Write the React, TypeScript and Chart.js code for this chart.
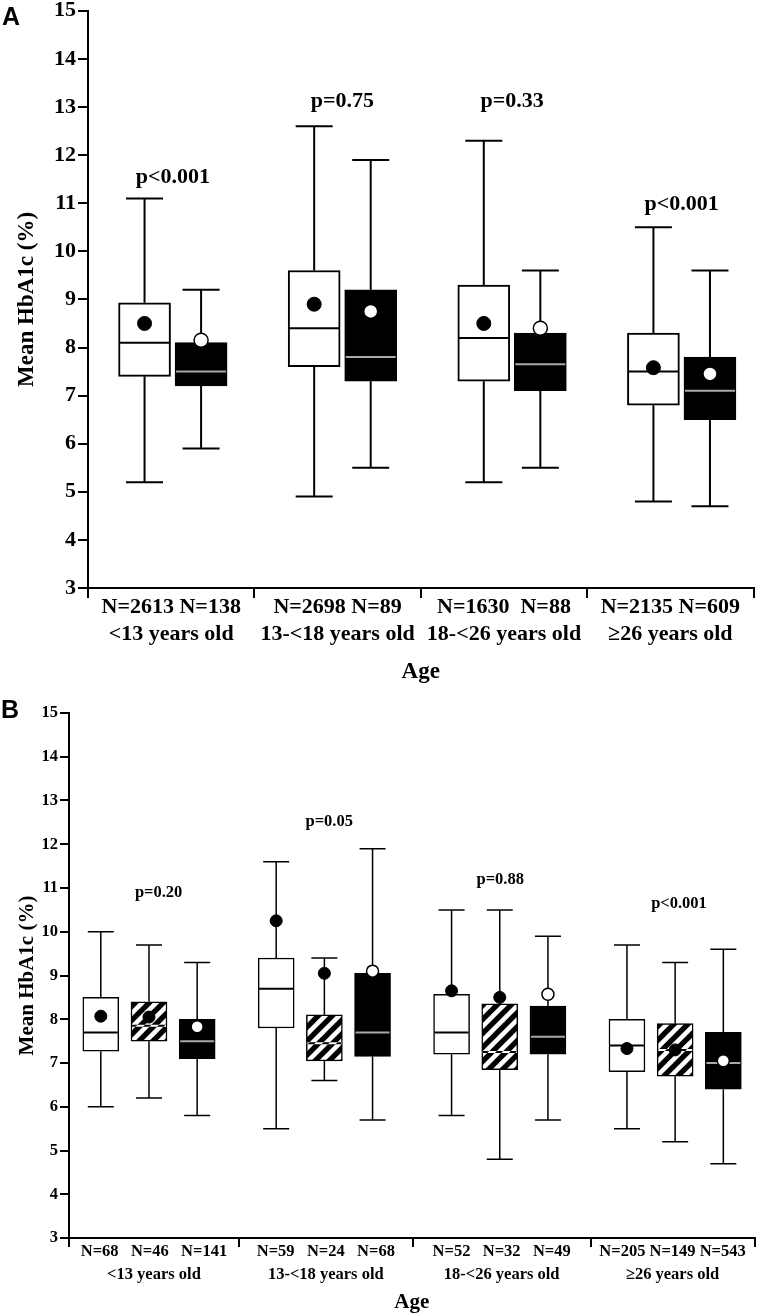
import React, { useEffect, useRef } from "react";
import { Chart, registerables } from "chart.js";

Chart.register(...registerables);

const SERIF = "'Liberation Serif', 'Times New Roman', serif";

// ---------------- Panel A data ----------------
const ageGroups = ["<13 years old", "13-<18 years old", "18-<26 years old", "≥26 years old"];
const nLabelsA = ["N=2613 N=138", "N=2698 N=89", "N=1630  N=88", "N=2135 N=609"];
const boxTypesA = ["white", "black", "white", "black", "white", "black", "white", "black"];
const minA = [5.2, 5.9, 4.9, 5.5, 5.2, 5.5, 4.8, 4.7];
const q1A = [7.4, 7.2, 7.6, 7.3, 7.3, 7.1, 6.8, 6.5];
const medianA = [8.1, 7.5, 8.4, 7.8, 8.2, 7.65, 7.5, 7.1];
const q3A = [8.93, 8.1, 9.6, 9.2, 9.3, 8.3, 8.3, 7.8];
const maxA = [11.1, 9.2, 12.6, 11.9, 12.3, 9.6, 10.5, 9.6];
const meanA = [8.5, 8.15, 8.9, 8.75, 8.5, 8.4, 7.58, 7.45];
const pLabelsA = ["p<0.001", "p=0.75", "p=0.33", "p<0.001"];
const pLevelA = [11.53, 13.12, 13.12, 10.97];

// ---------------- Panel B data ----------------
const nLabelsB = ["N=68   N=46   N=141", "N=59   N=24   N=68", "N=52   N=32   N=49", "N=205 N=149 N=543"];
const boxTypesB = ["white", "hatched", "black", "white", "hatched", "black", "white", "hatched", "black", "white", "hatched", "black"];
const minB = [6.0, 6.2, 5.8, 5.5, 6.6, 5.7, 5.8, 4.8, 5.7, 5.5, 5.2, 4.7];
const q1B = [7.27, 7.5, 7.1, 7.8, 7.05, 7.15, 7.2, 6.85, 7.2, 6.8, 6.7, 6.4];
const medianB = [7.7, 7.85, 7.5, 8.7, 7.45, 7.7, 7.7, 7.25, 7.6, 7.4, 7.3, 7.0];
const q3B = [8.5, 8.4, 8.0, 9.4, 8.1, 9.05, 8.57, 8.35, 8.3, 8.0, 7.9, 7.7];
const maxB = [10.0, 9.7, 9.3, 11.6, 9.4, 11.9, 10.5, 10.5, 9.9, 9.7, 9.3, 9.6];
const meanB = [8.07, 8.05, 7.83, 10.25, 9.05, 9.1, 8.65, 8.5, 8.57, 7.33, 7.3, 7.05];
const pLabelsB = ["p=0.20", "p=0.05", "p=0.88", "p<0.001"];
const pLevelB = [10.89, 12.51, 11.18, 10.63];

const yTicks = [3, 4, 5, 6, 7, 8, 9, 10, 11, 12, 13, 14, 15];

// ---------------- layout (x-scale units, pixels, styles) ----------------
type Panel = {
  groups: string[]; nLabels: string[]; types: string[];
  min: number[]; q1: number[]; med: number[]; q3: number[]; max: number[]; mean: number[];
  pLabels: string[]; pLevel: number[];
  slots: number[]; dividers: number[]; pX: number[];
  width: number; height: number; padTop: number; yAxisW: number; xAxisH: number;
  boxW: number; capW: number; lineW: number; meanR: number;
  tickFont: number; xTickFont: number; xTickLH: number; xTickPad: number; tickLen: number;
  yTitleFont: number; yTitlePad: number; xTitleFont: number; xTitlePad: number; pFont: number;
};

const panelA: Panel = {
  groups: ageGroups, nLabels: nLabelsA, types: boxTypesA,
  min: minA, q1: q1A, med: medianA, q3: q3A, max: maxA, mean: meanA,
  pLabels: pLabelsA, pLevel: pLevelA,
  slots: [0, 1, 3, 4, 6, 7, 9, 10],
  dividers: [-1, 1.943, 4.886, 7.828, 10.77],
  pX: [0.5, 3.5, 6.5, 9.5],
  width: 762, height: 690, padTop: 9, yAxisW: 88, xAxisH: 102,
  boxW: 52, capW: 37, lineW: 2, meanR: 7,
  tickFont: 22, xTickFont: 22, xTickLH: 1.25, xTickPad: -4.75, tickLen: 10,
  yTitleFont: 23, yTitlePad: 13, xTitleFont: 23, xTitlePad: 4, pFont: 22,
};

const panelB: Panel = {
  groups: ageGroups, nLabels: nLabelsB, types: boxTypesB,
  min: minB, q1: q1B, med: medianB, q3: q3B, max: maxB, mean: meanB,
  pLabels: pLabelsB, pLevel: pLevelB,
  slots: [0, 1, 2, 3.64, 4.64, 5.64, 7.28, 8.28, 9.28, 10.92, 11.92, 12.92],
  dividers: [-0.66, 2.866, 6.474, 10.165, 13.567],
  pX: [1.2, 4.74, 8.29, 12.0],
  width: 762, height: 625, padTop: 23, yAxisW: 69, xAxisH: 77,
  boxW: 36, capW: 26, lineW: 1.5, meanR: 6,
  tickFont: 16.5, xTickFont: 16.5, xTickLH: 1.4, xTickPad: -6.5, tickLen: 9,
  yTitleFont: 21, yTitlePad: 15, xTitleFont: 21, xTitlePad: 0, pFont: 16.5,
};

function makeHatch(): CanvasPattern | string {
  const T = 14;
  const c = document.createElement("canvas");
  c.width = T;
  c.height = T;
  const g = c.getContext("2d");
  if (!g) return "#888";
  g.fillStyle = "#fff";
  g.fillRect(0, 0, T, T);
  g.strokeStyle = "#000";
  g.lineWidth = 5.4;
  for (const s of [0, T, 2 * T]) {
    g.beginPath();
    g.moveTo(-T / 2, s + T / 2);
    g.lineTo(s + T / 2, -T / 2);
    g.stroke();
  }
  return g.createPattern(c, "repeat") || "#888";
}

function makeChart(canvas: HTMLCanvasElement, P: Panel) {
  const hatch = makeHatch();
  const fillFor = (t: string) => (t === "white" ? "#ffffff" : t === "black" ? "#000000" : hatch);
  const kinds = ["white", "hatched", "black"].filter((t) => P.types.includes(t));

  const barSets: any[] = kinds.map((t) => {
    const idx = P.types.map((tt, i) => (tt === t ? i : -1)).filter((i) => i >= 0);
    return {
      type: "bar",
      label: t,
      boxType: t,
      data: idx.map((i) => ({ x: P.slots[i], y: [P.q1[i], P.q3[i]] })),
      backgroundColor: fillFor(t),
      borderColor: "#000",
      borderWidth: P.lineW,
      borderSkipped: false,
      barThickness: P.boxW,
      grouped: false,
      order: 2,
    };
  });

  const darkIdx = P.types.map((t, i) => (t !== "black" ? i : -1)).filter((i) => i >= 0);
  const lightIdx = P.types.map((t, i) => (t === "black" ? i : -1)).filter((i) => i >= 0);
  const meanSets: any[] = [
    {
      type: "scatter",
      label: "mean (dark)",
      data: darkIdx.map((i) => ({ x: P.slots[i], y: P.mean[i] })),
      pointRadius: P.meanR,
      pointBackgroundColor: "#000",
      pointBorderColor: "#000",
      pointBorderWidth: 1,
      order: 0,
    },
    {
      type: "scatter",
      label: "mean (light)",
      data: lightIdx.map((i) => ({ x: P.slots[i], y: P.mean[i] })),
      pointRadius: P.meanR,
      pointBackgroundColor: "#fff",
      pointBorderColor: "#000",
      pointBorderWidth: 1.5,
      order: 0,
    },
  ];

  const centers = P.groups.map((_, g) => (P.dividers[g] + P.dividers[g + 1]) / 2);
  const tickVals: number[] = [];
  P.dividers.forEach((d, i) => {
    tickVals.push(d);
    if (i < centers.length) tickVals.push(centers[i]);
  });

  const boxPlugin = {
    id: "boxplot",
    beforeDatasetsDraw(chart: any) {
      const { ctx } = chart;
      const x = chart.scales.x;
      const y = chart.scales.y;
      ctx.save();
      ctx.strokeStyle = "#000";
      ctx.lineWidth = P.lineW;
      P.slots.forEach((s, i) => {
        const px = x.getPixelForValue(s);
        const hw = P.capW / 2;
        const yMax = y.getPixelForValue(P.max[i]);
        const yMin = y.getPixelForValue(P.min[i]);
        ctx.beginPath();
        ctx.moveTo(px, y.getPixelForValue(P.q3[i]));
        ctx.lineTo(px, yMax);
        ctx.moveTo(px - hw, yMax);
        ctx.lineTo(px + hw, yMax);
        ctx.moveTo(px, y.getPixelForValue(P.q1[i]));
        ctx.lineTo(px, yMin);
        ctx.moveTo(px - hw, yMin);
        ctx.lineTo(px + hw, yMin);
        ctx.stroke();
      });
      ctx.restore();
    },
    afterDatasetDraw(chart: any, args: any) {
      const ds = chart.data.datasets[args.index];
      if (!ds || !ds.boxType) return;
      const { ctx } = chart;
      const x = chart.scales.x;
      const y = chart.scales.y;
      ctx.save();
      ctx.lineWidth = 2;
      P.types.forEach((t, i) => {
        if (t !== ds.boxType) return;
        const px = x.getPixelForValue(P.slots[i]);
        const py = y.getPixelForValue(P.med[i]);
        const hw = P.boxW / 2 - 1;
        if (t === "hatched") {
          ctx.globalCompositeOperation = "difference";
          ctx.strokeStyle = "#fff";
        } else {
          ctx.globalCompositeOperation = "source-over";
          ctx.strokeStyle = t === "black" ? "#a8a8a8" : "#000";
        }
        ctx.beginPath();
        ctx.moveTo(px - hw, py);
        ctx.lineTo(px + hw, py);
        ctx.stroke();
      });
      ctx.restore();
    },
    afterDraw(chart: any) {
      const { ctx } = chart;
      const x = chart.scales.x;
      const y = chart.scales.y;
      ctx.save();
      ctx.fillStyle = "#000";
      ctx.font = `bold ${P.pFont}px ${SERIF}`;
      ctx.textAlign = "center";
      ctx.textBaseline = "middle";
      P.pLabels.forEach((lab, i) => {
        ctx.fillText(lab, x.getPixelForValue(P.pX[i]), y.getPixelForValue(P.pLevel[i]));
      });
      ctx.restore();
    },
  };

  return new Chart(canvas, {
    type: "bar",
    data: { datasets: [...barSets, ...meanSets] },
    options: {
      responsive: false,
      animation: false,
      devicePixelRatio: 1,
      events: [],
      layout: { padding: { top: P.padTop, left: 0, right: 3, bottom: 0 } },
      plugins: { legend: { display: false }, tooltip: { enabled: false }, title: { display: false } },
      scales: {
        x: {
          type: "linear",
          position: "bottom",
          min: P.dividers[0],
          max: P.dividers[P.dividers.length - 1],
          offset: false,
          afterBuildTicks: (scale: any) => {
            scale.ticks = tickVals.map((v) => ({ value: v }));
          },
          afterFit: (scale: any) => {
            scale.height = P.xAxisH;
          },
          ticks: {
            autoSkip: false,
            maxRotation: 0,
            minRotation: 0,
            color: "#000",
            padding: P.xTickPad,
            font: { family: SERIF, size: P.xTickFont, weight: "bold", lineHeight: P.xTickLH },
            callback: (_v: any, i: number) => (i % 2 === 1 ? [P.nLabels[(i - 1) / 2], P.groups[(i - 1) / 2]] : ""),
          },
          grid: {
            display: true,
            offset: false,
            drawOnChartArea: false,
            drawTicks: true,
            tickLength: P.tickLen,
            lineWidth: 2,
            color: (ctx: any) => (ctx.index % 2 === 0 ? "#000" : "rgba(0,0,0,0)"),
          },
          border: { display: true, color: "#000", width: 2 },
          title: {
            display: true,
            text: "Age",
            color: "#000",
            font: { family: SERIF, size: P.xTitleFont, weight: "bold" },
            padding: { top: 0, bottom: P.xTitlePad },
          },
        },
        y: {
          type: "linear",
          min: 3,
          max: 15,
          afterBuildTicks: (scale: any) => {
            scale.ticks = yTicks.map((v) => ({ value: v }));
          },
          afterFit: (scale: any) => {
            scale.width = P.yAxisW;
          },
          ticks: {
            color: "#000",
            padding: 2,
            font: { family: SERIF, size: P.tickFont, weight: "bold", lineHeight: 0.8 },
          },
          grid: {
            display: true,
            drawOnChartArea: false,
            drawTicks: true,
            tickLength: P.tickLen,
            lineWidth: 2,
            color: "#000",
          },
          border: { display: true, color: "#000", width: 2 },
          title: {
            display: true,
            text: "Mean HbA1c (%)",
            color: "#000",
            font: { family: SERIF, size: P.yTitleFont, weight: "bold" },
            padding: { top: P.yTitlePad, bottom: 0 },
          },
        },
      },
    } as any,
    plugins: [boxPlugin],
  } as any);
}

export default function App() {
  const refA = useRef<HTMLCanvasElement>(null);
  const refB = useRef<HTMLCanvasElement>(null);

  useEffect(() => {
    if (!refA.current || !refB.current) return;
    const a = makeChart(refA.current, panelA);
    const b = makeChart(refB.current, panelB);
    return () => {
      a.destroy();
      b.destroy();
    };
  }, []);

  const letter: React.CSSProperties = {
    position: "absolute",
    font: "bold 25px 'Liberation Sans', Arial, sans-serif",
    lineHeight: "25px",
    color: "#000",
  };

  return (
    <div style={{ position: "absolute", left: 0, top: 0, width: 762, height: 1315, background: "#fff", overflow: "hidden" }}>
      <canvas
        ref={refA}
        width={panelA.width}
        height={panelA.height}
        style={{ position: "absolute", left: 0, top: 0, width: panelA.width, height: panelA.height }}
      />
      <canvas
        ref={refB}
        width={panelB.width}
        height={panelB.height}
        style={{ position: "absolute", left: 0, top: 690, width: panelB.width, height: panelB.height }}
      />
      <div style={{ ...letter, left: 2, top: 4 }}>A</div>
      <div style={{ ...letter, left: 1, top: 697 }}>B</div>
    </div>
  );
}
